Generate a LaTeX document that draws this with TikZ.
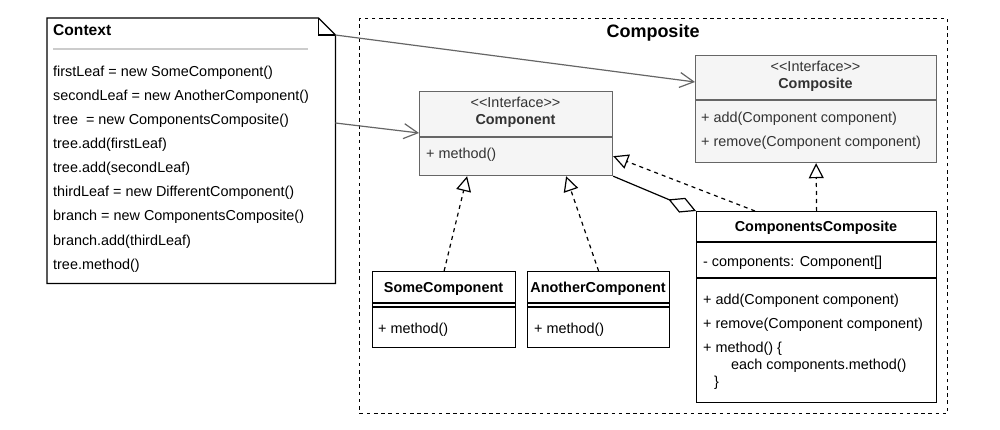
\documentclass[tikz,border=0pt]{standalone}
\usepackage{fontspec}
\setmainfont{Liberation Sans}
\usetikzlibrary{arrows.meta,calc}
\definecolor{ifill}{HTML}{F5F5F5}
\definecolor{istroke}{HTML}{666666}
\definecolor{itext}{HTML}{333333}
\definecolor{sepgray}{HTML}{CCCCCC}
\begin{document}
\begin{tikzpicture}[x=1pt,y=-1pt,
  ifacebox/.style={draw=istroke,fill=ifill,line width=1.2pt,inner sep=0pt,anchor=north west},
  classbox/.style={draw=black,fill=white,line width=1.2pt,inner sep=0pt,anchor=north west},
  framebox/.style={draw=black,line width=1.1pt,dash pattern=on 3.6pt off 3.6pt,inner sep=0pt,anchor=north west},
  txt/.style={anchor=base west,inner sep=0pt,font=\fontsize{14.4}{17}\selectfont},
  itxt/.style={txt,text=itext},
  ttl/.style={anchor=base,inner sep=0pt,font=\fontsize{14.4}{17}\selectfont\bfseries},
  ittl/.style={ttl,text=itext},
  stereo/.style={anchor=base,inner sep=0pt,font=\fontsize{14.4}{17}\selectfont,text=itext},
  sepline/.style={line width=1.2pt},
  assoc/.style={draw=istroke,line width=1.2pt,-{Straight Barb[length=14pt,width=15pt,line width=1.2pt]}},
  realize/.style={draw=black,line width=1.2pt,dash pattern=on 4pt off 4pt,-{Triangle[open,length=15pt,width=15pt,fill=white,line width=1.2pt]}},
  aggreg/.style={draw=black,line width=1.2pt,{Diamond[open,length=30pt,width=16pt,fill=white,line width=1.2pt]}-}
]
\useasboundingbox (0,0) rectangle (1000,430);

% package frame
\node[framebox,minimum width=588pt,minimum height=395pt] (frame) at (359,18) {};
\node[anchor=base,inner sep=0pt,font=\fontsize{18}{21}\selectfont\bfseries] (frametitle) at (653,38) {Composite};

% context note
\node[anchor=north west,inner sep=0pt,minimum width=288pt,minimum height=265pt] (ctx) at (47,18) {};
\draw[line width=1.2pt,fill=white] (ctx.north west) -- ($(ctx.north east)+(-17,0)$) -- ($(ctx.north east)+(0,17)$) -- (ctx.south east) -- (ctx.south west) -- cycle;
\draw[line width=1.2pt] ($(ctx.north east)+(-17,0)$) -- ($(ctx.north east)+(-17,17)$) -- ($(ctx.north east)+(0,17)$);
\node[anchor=base west,inner sep=0pt,font=\fontsize{15.6}{18}\selectfont\bfseries] (ctxtitle) at (53,36) {Context};
\draw[sepgray,line width=2pt] (53,49) -- (308,49);
\node[txt] (c1) at (53,77) {firstLeaf = new SomeComponent()};
\node[txt] (c2) at (53,101) {secondLeaf = new AnotherComponent()};
\node[txt] (c3) at (53,125) {tree\ \ = new ComponentsComposite()};
\node[txt] (c4) at (53,149) {tree.add(firstLeaf)};
\node[txt] (c5) at (53,173) {tree.add(secondLeaf)};
\node[txt] (c6) at (53,197) {thirdLeaf = new DifferentComponent()};
\node[txt] (c7) at (53,221) {branch = new ComponentsComposite()};
\node[txt] (c8) at (53,245) {branch.add(thirdLeaf)};
\node[txt] (c9) at (53,269) {tree.method()};

% Component interface
\node[ifacebox,minimum width=193pt,minimum height=84pt] (comp) at (419,91) {};
\draw[istroke,sepline] (419,137) -- (612,137);
\node[stereo] (compst) at (515.5,108) {{<}{<}Interface{>}{>}};
\node[ittl] (compname) at (515.5,125) {Component};
\node[itxt] (compm) at (426,159) {+ method()};

% Composite interface
\node[ifacebox,minimum width=241pt,minimum height=107pt] (cif) at (695,55) {};
\draw[istroke,sepline] (695,100) -- (936,100);
\node[stereo] (cifst) at (815.5,72) {{<}{<}Interface{>}{>}};
\node[ittl] (cifname) at (815.5,89) {Composite};
\node[itxt] (cifadd) at (701,123) {+ add(Component component)};
\node[itxt] (cifrem) at (701,147) {+ remove(Component component)};

% SomeComponent
\node[classbox,minimum width=143pt,minimum height=76pt] (sc) at (372,271) {};
\draw[sepline] (372,303) -- (515,303);
\draw[sepline] (372,307) -- (515,307);
\node[ttl] (scname) at (443.5,292) {SomeComponent};
\node[txt] (scm) at (378,333) {+ method()};

% AnotherComponent
\node[classbox,minimum width=142pt,minimum height=76pt] (ac) at (527,271) {};
\draw[sepline] (527,303) -- (669,303);
\draw[sepline] (527,307) -- (669,307);
\node[ttl] (acname) at (598,292) {AnotherComponent};
\node[txt] (acm) at (534,333) {+ method()};

% ComponentsComposite
\node[classbox,minimum width=240pt,minimum height=191pt] (cc) at (696,211) {};
\draw[sepline] (696,242) -- (936,242);
\draw[sepline] (696,278) -- (936,278);
\node[ttl] (ccname) at (816,232) {ComponentsComposite};
\node[txt] (ccf) at (703,266) {- components: Component[]};
\node[txt] (ccadd) at (703,304) {+ add(Component component)};
\node[txt] (ccrem) at (703,328) {+ remove(Component component)};
\node[txt] (ccm1) at (703,352) {+ method() \{};
\node[txt] (ccm2) at (731,369) {each components.method()};
\node[txt] (ccm3) at (714,386) {\}};

% connectors
\draw[assoc] ($(ctx.north east)+(0,17)$) -- ($(cif.north west)+(0,27)$);
\draw[assoc] ($(ctx.north east)+(0,105)$) -- ($(comp.north west)+(0,42)$);
\draw[realize] (sc.north) -- ($(comp.south)+(-49,0)$);
\draw[realize] (ac.north) -- ($(comp.south)+(50,0)$);
\draw[realize] ($(cc.north west)+(59,0)$) -- ($(comp.south east)+(0,-20)$);
\draw[realize] (cc.north) -- (cif.south);
\draw[aggreg] (cc.north west) -- (comp.south east);
\end{tikzpicture}
\end{document}
